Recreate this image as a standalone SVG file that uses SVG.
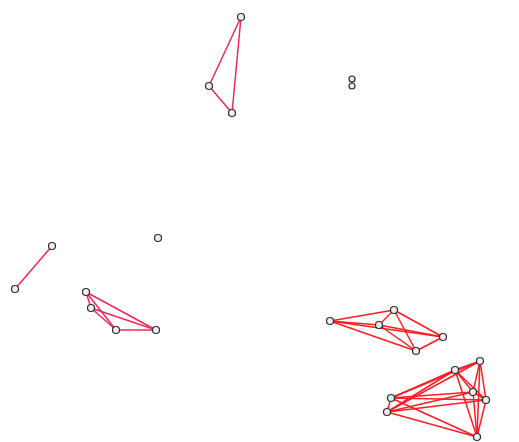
<svg xmlns="http://www.w3.org/2000/svg" width="519" height="442" viewBox="0 0 519 442">
<style>
.e{stroke:#f0285a;stroke-width:1.5;fill:none}
.r{stroke:#ff1c24;stroke-width:1.5;fill:none}
.n{fill:#eeeeee;stroke:#2a2a2a;stroke-width:1.2}
</style>
<rect width="519" height="442" fill="#fff"/>
<g id="connectors">
<line class="e" x1="241" y1="17" x2="209" y2="86"/>
<line class="e" x1="241" y1="17" x2="232" y2="113"/>
<line class="e" x1="209" y1="86" x2="232" y2="113"/>
<line class="e" x1="352" y1="79" x2="352" y2="86"/>
<line class="e" x1="52" y1="246" x2="15" y2="289"/>
<line class="e" x1="86" y1="292" x2="91" y2="308"/>
<line class="e" x1="86" y1="292" x2="116" y2="330"/>
<line class="e" x1="86" y1="292" x2="156" y2="330"/>
<line class="e" x1="91" y1="308" x2="116" y2="330"/>
<line class="e" x1="91" y1="308" x2="156" y2="330"/>
<line class="e" x1="116" y1="330" x2="156" y2="330"/>
<line class="r" x1="330" y1="321" x2="394" y2="310"/>
<line class="r" x1="330" y1="321" x2="379" y2="325"/>
<line class="r" x1="330" y1="321" x2="443" y2="337"/>
<line class="r" x1="330" y1="321" x2="416" y2="351"/>
<line class="r" x1="394" y1="310" x2="379" y2="325"/>
<line class="r" x1="394" y1="310" x2="443" y2="337"/>
<line class="r" x1="394" y1="310" x2="416" y2="351"/>
<line class="r" x1="379" y1="325" x2="443" y2="337"/>
<line class="r" x1="379" y1="325" x2="416" y2="351"/>
<line class="r" x1="416" y1="351" x2="443" y2="337"/>
<line class="r" x1="480" y1="361" x2="455" y2="370"/>
<line class="r" x1="480" y1="361" x2="391" y2="398"/>
<line class="r" x1="480" y1="361" x2="387" y2="412"/>
<line class="r" x1="480" y1="361" x2="473" y2="392"/>
<line class="r" x1="480" y1="361" x2="486" y2="400"/>
<line class="r" x1="480" y1="361" x2="477" y2="437"/>
<line class="r" x1="455" y1="370" x2="391" y2="398"/>
<line class="r" x1="455" y1="370" x2="387" y2="412"/>
<line class="r" x1="455" y1="370" x2="473" y2="392"/>
<line class="r" x1="455" y1="370" x2="486" y2="400"/>
<line class="r" x1="455" y1="370" x2="477" y2="437"/>
<line class="r" x1="391" y1="398" x2="387" y2="412"/>
<line class="r" x1="391" y1="398" x2="473" y2="392"/>
<line class="r" x1="391" y1="398" x2="486" y2="400"/>
<line class="r" x1="391" y1="398" x2="477" y2="437"/>
<line class="r" x1="387" y1="412" x2="473" y2="392"/>
<line class="r" x1="387" y1="412" x2="486" y2="400"/>
<line class="r" x1="387" y1="412" x2="477" y2="437"/>
<line class="r" x1="473" y1="392" x2="486" y2="400"/>
<line class="r" x1="473" y1="392" x2="477" y2="437"/>
<line class="r" x1="486" y1="400" x2="477" y2="437"/>
</g>
<g id="n1"><circle class="n" cx="241" cy="17" r="3.5"/></g>
<g id="n2"><circle class="n" cx="209" cy="86" r="3.5"/></g>
<g id="n3"><circle class="n" cx="232" cy="113" r="3.5"/></g>
<g id="n4"><circle class="n" cx="352" cy="79" r="3"/></g>
<g id="n5"><circle class="n" cx="352" cy="86" r="3"/></g>
<g id="n6"><circle class="n" cx="52" cy="246" r="3.5"/></g>
<g id="n7"><circle class="n" cx="15" cy="289" r="3.5"/></g>
<g id="n8"><circle class="n" cx="158" cy="238" r="3.5"/></g>
<g id="n9"><circle class="n" cx="86" cy="292" r="3.5"/></g>
<g id="n10"><circle class="n" cx="91" cy="308" r="3.5"/></g>
<g id="n11"><circle class="n" cx="116" cy="330" r="3.5"/></g>
<g id="n12"><circle class="n" cx="156" cy="330" r="3.5"/></g>
<g id="n13"><circle class="n" cx="330" cy="321" r="3.5"/></g>
<g id="n14"><circle class="n" cx="394" cy="310" r="3.5"/></g>
<g id="n15"><circle class="n" cx="379" cy="325" r="3.5"/></g>
<g id="n16"><circle class="n" cx="443" cy="337" r="3.5"/></g>
<g id="n17"><circle class="n" cx="416" cy="351" r="3.5"/></g>
<g id="n18"><circle class="n" cx="480" cy="361" r="3.5"/></g>
<g id="n19"><circle class="n" cx="455" cy="370" r="3.5"/></g>
<g id="n20"><circle class="n" cx="391" cy="398" r="3.5"/></g>
<g id="n21"><circle class="n" cx="387" cy="412" r="3.5"/></g>
<g id="n22"><circle class="n" cx="473" cy="392" r="3.5"/></g>
<g id="n23"><circle class="n" cx="486" cy="400" r="3.5"/></g>
<g id="n24"><circle class="n" cx="477" cy="437" r="3.5"/></g>
</svg>
